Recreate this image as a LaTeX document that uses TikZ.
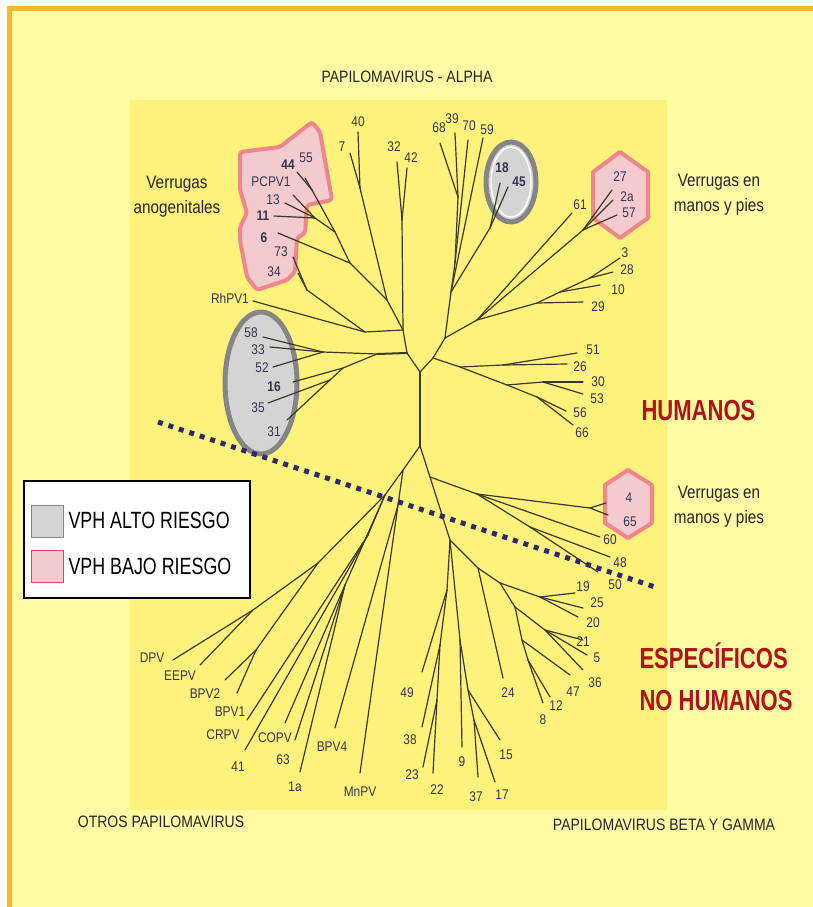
\documentclass[tikz,border=0pt]{standalone}
\usepackage{fontspec}
\setmainfont{Liberation Sans}[FakeStretch=0.85]
\newfontfamily\narrowfont{Liberation Sans}[FakeStretch=0.76]

\definecolor{paleyellow}{HTML}{FFFAA4}
\definecolor{panelyellow}{HTML}{FFF27C}
\definecolor{frameorange}{HTML}{F9B72A}
\definecolor{treeline}{HTML}{3A382A}
\definecolor{leafblue}{HTML}{34344C}
\definecolor{deepred}{HTML}{B0121A}
\definecolor{dotblue}{HTML}{2C2A6A}
\definecolor{riskgrey}{HTML}{D4D4D4}
\definecolor{ringgrey}{HTML}{858585}
\definecolor{riskpink}{HTML}{F3CBCF}
\definecolor{ringpink}{HTML}{EE868B}
\definecolor{keypink}{HTML}{E0407A}

\tikzset{
  branch/.style={draw=treeline, line width=1.2pt, line cap=round},
  leaf/.style={text=leafblue, font=\fontsize{14}{14}\selectfont, inner sep=0pt},
  boldleaf/.style={leaf, font=\fontsize{14}{14}\selectfont\bfseries},
  note/.style={align=center, text=black!85, font=\fontsize{18}{25}\selectfont},
  heading/.style={text=black!85, font=\fontsize{16.5}{18}\selectfont},
  bigred/.style={align=left, text=deepred, font=\narrowfont\fontsize{29}{42}\selectfont\bfseries},
  highrisk/.style={fill=riskgrey, draw=ringgrey, line width=5pt},
  lowrisk/.style={fill=riskpink, draw=ringpink, line width=4pt, line join=round},
  dotline/.style={draw=dotblue, line width=5pt, dash pattern=on 5pt off 6pt},
  keytext/.style={anchor=west, text=black, font=\narrowfont\fontsize{23.5}{24}\selectfont},
}

\begin{document}
\begin{tikzpicture}[x=1pt,y=-1pt]

% Background
\useasboundingbox (0,0) rectangle (813,907);
\fill[white] (0,0) rectangle (813,907);
\fill[paleyellow] (9,9) rectangle (813,907);
\fill[panelyellow] (130,100) rectangle (667,810);
\draw[frameorange, line width=5pt] (9,907) -- (9,9) -- (813,9);

% Risk groups
\draw[lowrisk, rounded corners=3pt] (240,152) -- (280,147) -- (312,122) -- (320,132) -- (332,200) -- (307,205) -- (305,233) -- (297,238) -- (295,272) -- (287,280) -- (257,290) -- (247,277) -- (240,240) -- (240,227) -- (247,213) -- (240,190) -- cycle;
\draw[highrisk] (261,383) ellipse [x radius=36, y radius=71];
\draw[highrisk] (511,182) ellipse [x radius=25, y radius=40];
\draw[white, line width=1.5pt] (511,182) ellipse [x radius=20, y radius=35];
\draw[lowrisk] (620,152) -- (648,172) -- (648,218) -- (620,238) -- (593,218) -- (593,172) -- cycle;
\draw[lowrisk] (628,470) -- (652,485) -- (652,523) -- (628,538) -- (605,523) -- (605,485) -- cycle;

% Tree points
\foreach \n/\x/\y in {c1/420/372, c2/420/446, cl/407/353, cr/433/358,
  a1/403/330, a2/402/220, e32/397/162, e42/407/168,
  a3/387/300, a4/360/188, e40/358/132, e7/350/153,
  a5/350/263, a6/335/232, a7/312/190, e44/297/172, e55/305/178,
  a8/315/218, ePCPV1/293/195, e13/285/203, e11/274/216,
  e6/278/233, a9/365/332, eRhPV1/253/301, a10/307/290, e73/293/257, e34/298/273,
  h0/377/354, h1/323/352, e58/263/337, e33/270/347, e52/273/367,
  h2/343/368, e16/293/382, h3/330/380, e35/268/403, e31/287/420,
  t1/445/338, t2/451/292, t3/455/263, t4/458/197, e68/440/143, e39/455/133,
  e70/468/140, e59/483/138, t5/490/228, e18/500/183, e45/508/187,
  t6/477/320, t7/537/303, e29/583/302, t8/560/292, e10/600/285,
  t9/590/278, e28/613/272, e3/620/258,
  e61/572/213, t11/583/230, e27/612/190, e2a/613/200, e57/617/215,
  r1/460/367, r2/503/365, e51/577/353, e26/567/364, r3/507/385,
  r4/543/382, e30/583/382, e53/583/394, r5/537/397, e56/566/411, e66/573/425,
  b0/430/477, b1/477/494, b2/590/508, e4/606/503, e65/608/515, e60/600/537,
  b4/530/527, e48/610/557, e50/598/572,
  b5/450/540, b6/478/568, b7/500/583, b8/540/597, e19/575/593, e25/583/608, e20/578/617,
  b9/515/607, b11/545/630, e21/583/640, e5/587/655, e36/583/670,
  b12/522/640, e47/570/675, b13/528/660, e12/550/697, e8/543/703, e24/503/678,
  b14/447/590, e49/422/672, b15/440/645, e38/422/727, b16/437/700, e23/423/767, e22/433/773,
  b17/460/640, e9/462/747, b18/468/690, e15/500/740, b19/474/720, e37/478/777, e17/495/782,
  n0/403/470, n1/385/495, n2/318/563, n3/253/610, eDPV/173/660, eEEPV/200/665,
  n4/256/650, eBPV2/225/680, eBPV1/237/693,
  n5/368/535, eCRPV/247/720, e41/245/750,
  n6/345/585, eCOPV/285/723, e63/295/740, e1a/300/772,
  n7/398/505, eBPV4/335/728, eMnPV/360/773}
  \coordinate (\n) at (\x,\y);

% Branches
\foreach \a/\b in {c1/c2, c1/cl, c1/cr,
  cl/a1, a1/a2, a2/e32, a2/e42, a1/a3, a3/a4, a4/e40, a4/e7, a3/a5, a5/a6,
  a6/a7, a7/e44, a7/e55, a6/a8, a8/ePCPV1, a8/e13, a8/e11, a5/e6,
  a1/a9, a9/eRhPV1, a9/a10, a10/e73, a10/e34,
  h0/h1, h1/e58, h1/e33, h1/e52, h0/h2, h2/e16, h2/h3, h3/e35, h3/e31,
  cr/t1, t1/t2, t2/t3, t3/t4, t4/e68, t4/e39, t3/e70, t2/e59, t2/t5, t5/e18, t5/e45,
  t1/t6, t6/t7, t7/e29, t7/t8, t8/e10, t8/t9, t9/e28, t9/e3,
  t6/e61, t6/t11, t11/e27, t11/e2a, t11/e57,
  cr/r1, r1/r2, r2/e51, r2/e26, r1/r3, r3/r4, r4/e30, r4/e53, r3/r5, r5/e56, r5/e66,
  c2/b0, b0/b1, b1/b2, b2/e4, b2/e65, b1/e60, b1/b4, b4/e48, b4/e50,
  b0/b5, b5/b6, b6/b7, b7/b8, b8/e19, b8/e25, b8/e20, b7/b9, b9/b11,
  b11/e21, b11/e5, b11/e36, b9/b12, b12/e47, b12/b13, b13/e12, b13/e8, b6/e24,
  b5/b14, b14/e49, b14/b15, b15/e38, b15/b16, b16/e23, b16/e22,
  b5/b17, b17/e9, b17/b18, b18/e15, b18/b19, b19/e37, b19/e17,
  c2/n0, n0/n1, n1/n2, n2/n3, n3/eDPV, n3/eEEPV, n2/n4, n4/eBPV2, n4/eBPV1,
  n1/n5, n5/eCRPV, n5/e41, n1/n6, n6/eCOPV, n6/e63, n6/e1a,
  n0/n7, n7/eBPV4, n7/eMnPV}
  \draw[branch] (\a) -- (\b);
\draw[branch, line width=2pt] (cl) -- (h0);

% Leaf labels
\foreach \t/\x/\y in {40/358/122, 7/342/147, 32/394/147, 42/411/158, 55/306/158,
  PCPV1/271/182, 13/273/200, 73/281/252, 34/274/272, RhPV1/230/298,
  58/251/333, 33/258/350, 52/262/368, 35/258/408, 31/274/432,
  68/439/128, 39/452/119, 70/469/126, 59/487/130,
  61/580/205, 27/620/177, 2a/627/197, 57/629/213, 3/625/253, 28/627/270, 10/618/290, 29/598/307,
  51/593/350, 26/580/367, 30/598/382, 53/597/399, 56/580/413, 66/582/433,
  4/629/498, 65/630/522, 60/610/540, 48/620/563, 50/615/585,
  19/583/587, 25/597/603, 20/593/623, 21/583/642, 5/597/658, 36/595/683,
  47/573/692, 12/556/706, 8/543/720, 24/508/693,
  15/506/755, 17/502/795, 37/476/797, 9/462/762, 22/437/790, 23/412/775, 38/410/740, 49/407/693,
  DPV/152/658, EEPV/180/676, BPV2/205/694, BPV1/230/712, CRPV/223/735, 41/238/767,
  COPV/275/738, 63/283/760, 1a/295/787, BPV4/332/747, MnPV/360/792}
  \node[leaf] (l\t) at (\x,\y) {\t};
\foreach \t/\x/\y in {44/288/165, 11/263/216, 6/264/238, 16/274/387, 18/502/168, 45/519/182}
  \node[boldleaf] (l\t) at (\x,\y) {\t};

% Dividing line
\coordinate (cutA) at (158,422);
\coordinate (cutB) at (655,587);
\draw[dotline] (cutA) -- (cutB);

% Texts
\node[heading] (alpha) at (407,77) {PAPILOMAVIRUS - ALPHA};
\node[note] (anogen) at (177,197) {Verrugas\\anogenitales};
\node[note] (handsup) at (719,195) {Verrugas en\\manos y pies};
\node[note] (handsdown) at (719,507) {Verrugas en\\manos y pies};
\node[bigred, anchor=west] (human) at (638,411) {HUMANOS};
\node[bigred, anchor=west] (nonhuman) at (636,677) {ESPECÍFICOS\\NO HUMANOS};
\node[heading] (others) at (161,822) {OTROS PAPILOMAVIRUS};
\node[heading] (betagamma) at (664,825) {PAPILOMAVIRUS BETA Y GAMMA};

% Legend
\node[draw=black, line width=1.5pt, fill=white, minimum width=226, minimum height=117, anchor=north west] (legend) at (23,480) {};
\node[draw=ringgrey, fill=riskgrey, line width=1pt, minimum size=32, inner sep=0pt] (keyhigh) at (47,521) {};
\node[draw=keypink, fill=riskpink, line width=1pt, minimum size=32, inner sep=0pt] (keylow) at (47,566) {};
\node[keytext] (texthigh) at (65,520) {VPH ALTO RIESGO};
\node[keytext] (textlow) at (65,566) {VPH BAJO RIESGO};

\end{tikzpicture}
\end{document}
